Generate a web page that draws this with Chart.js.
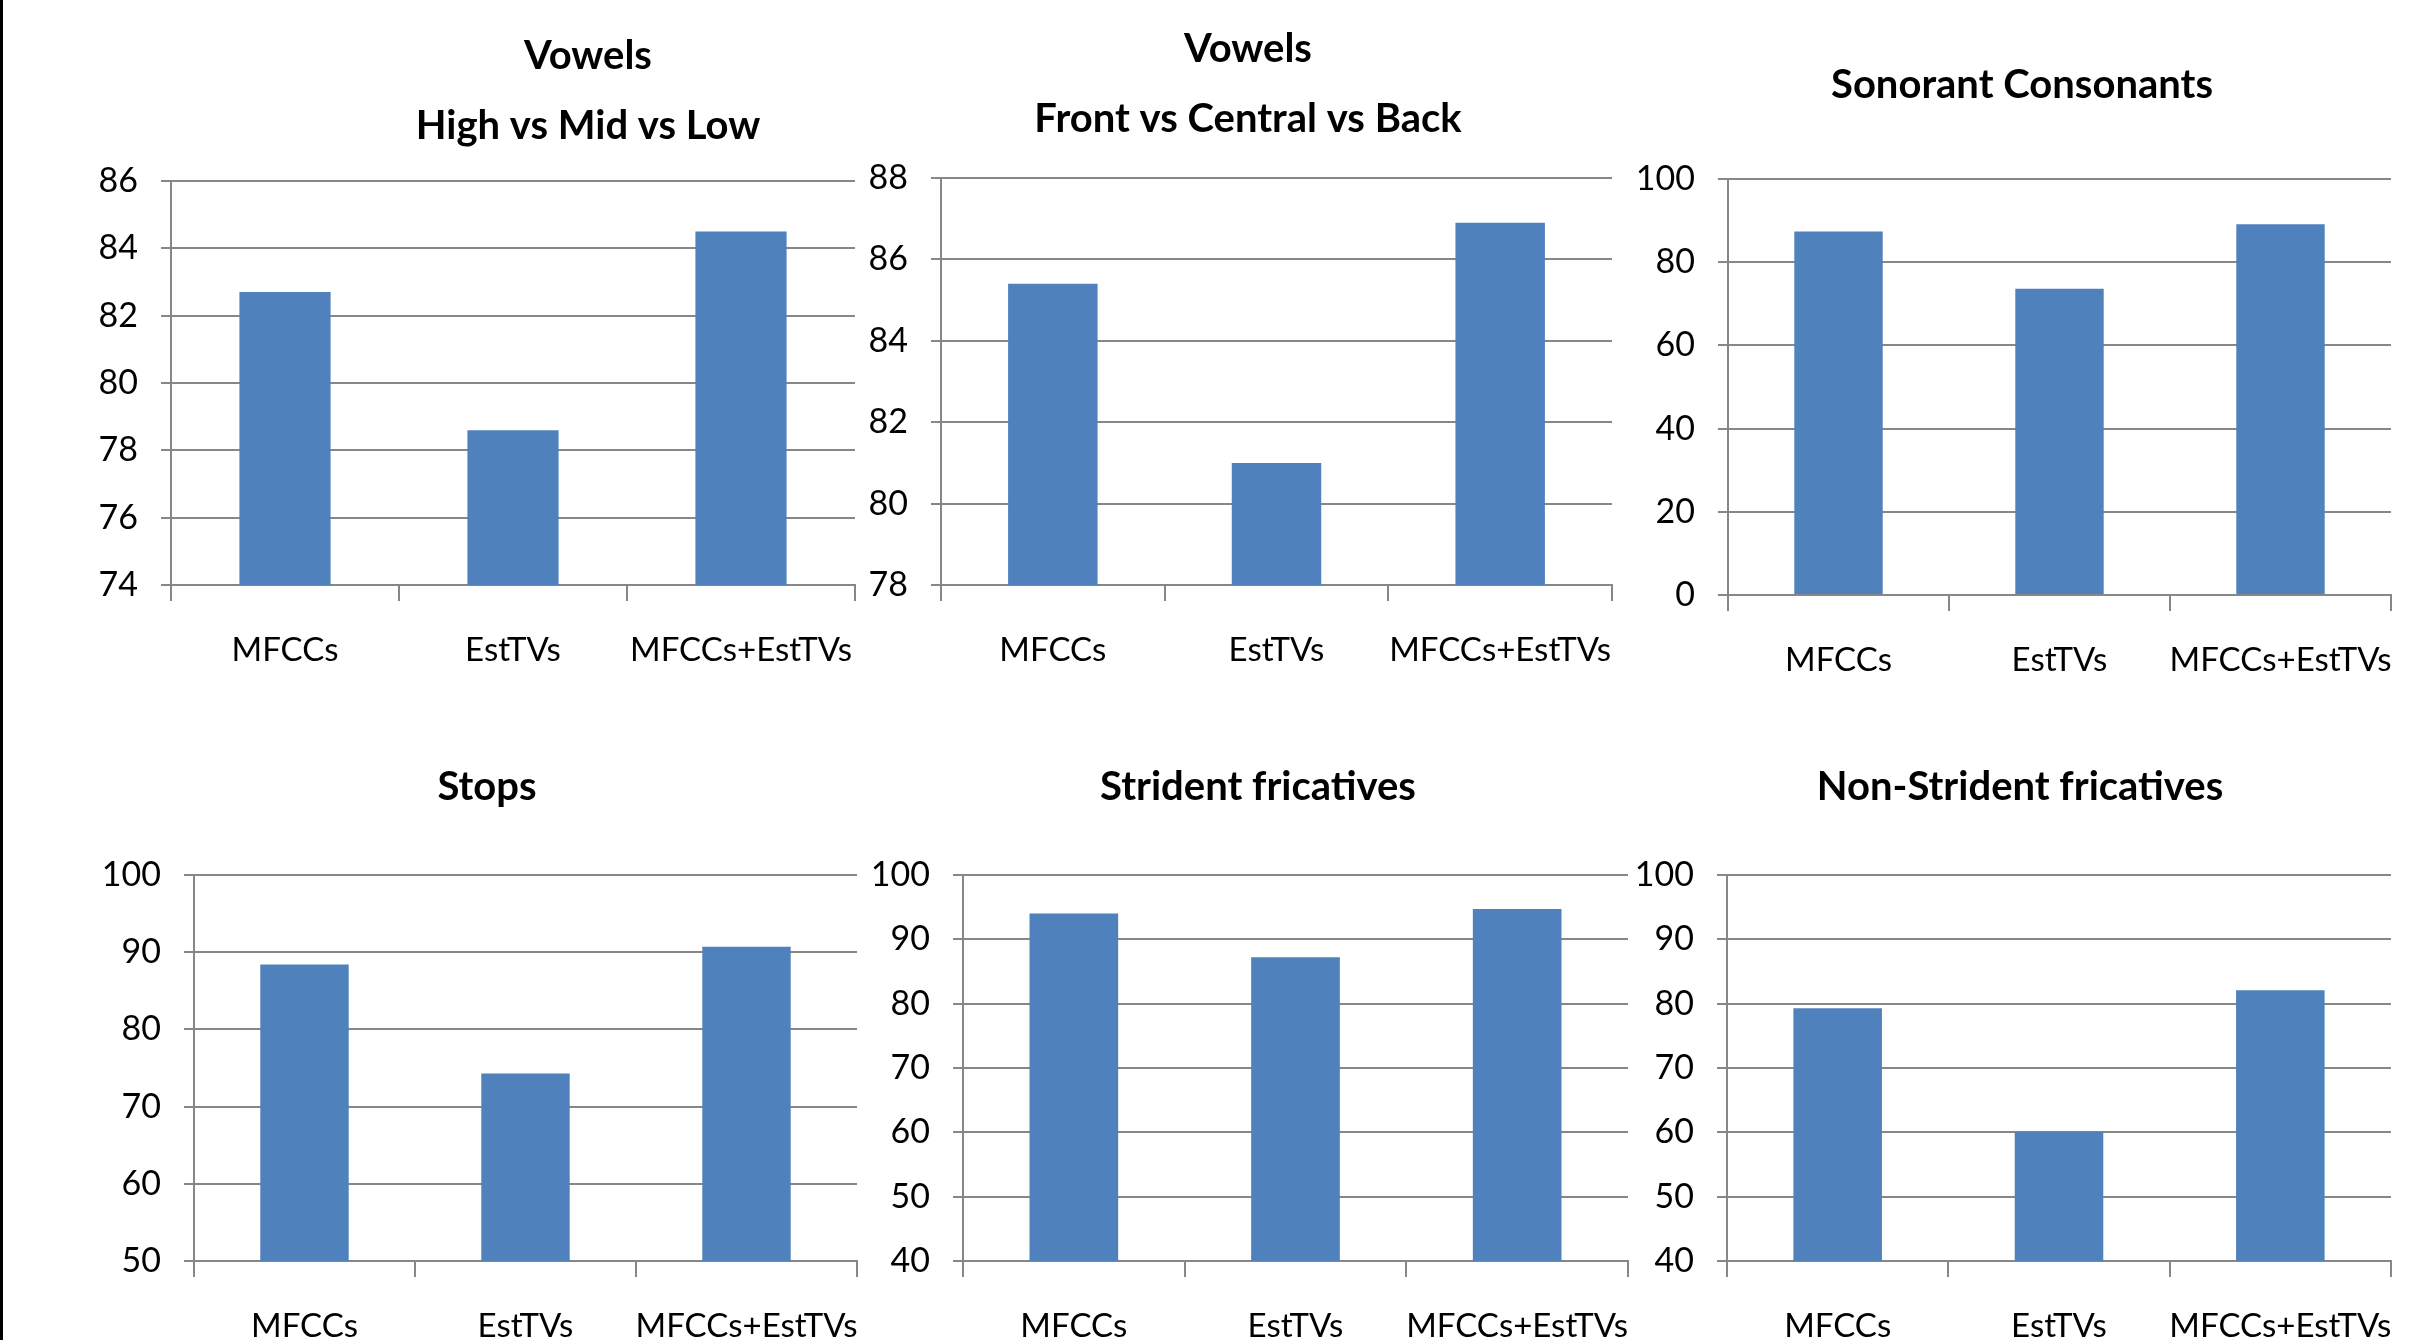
<!DOCTYPE html>
<html>
<head>
<meta charset="utf-8">
<title>Classification accuracy by feature set</title>
<script src="https://cdn.jsdelivr.net/npm/chart.js@4.4.1/dist/chart.umd.min.js"></script>
<style>
  html, body { margin: 0; padding: 0; background: #fff; }
  body { width: 2423px; height: 1340px; position: relative; overflow: hidden; }
  #edge { position: absolute; left: 0; top: 0; width: 3px; height: 1340px; background: #000; z-index: 5; }
  canvas { position: absolute; }
</style>
</head>
<body>
<div id="edge"></div>
<script>
// Feature sets compared in every panel
const categories = ['MFCCs', 'EstTVs', 'MFCCs+EstTVs'];

// Accuracy (%) per feature set
const vowelsHeightValues    = [82.7, 78.6, 84.5];
const vowelsBacknessValues  = [85.4, 81.0, 86.9];
const sonorantValues        = [87.4, 73.6, 89.1];
const stopsValues           = [88.4, 74.3, 90.7];
const stridentValues        = [94.0, 87.2, 94.7];
const nonStridentValues     = [79.3, 60.1, 82.1];

// Value-axis tick labels for each panel
const vowelsHeightTicks   = [74, 76, 78, 80, 82, 84, 86];
const vowelsBacknessTicks = [78, 80, 82, 84, 86, 88];
const sonorantTicks       = [0, 20, 40, 60, 80, 100];
const stopsTicks          = [50, 60, 70, 80, 90, 100];
const stridentTicks       = [40, 50, 60, 70, 80, 90, 100];
const nonStridentTicks    = [40, 50, 60, 70, 80, 90, 100];

// Panel titles
const vowelsHeightTitle   = ['Vowels', 'High vs Mid vs Low'];
const vowelsBacknessTitle = ['Vowels', 'Front vs Central vs Back'];
const sonorantTitle       = ['Sonorant Consonants'];
const stopsTitle          = ['Stops'];
const stridentTitle       = ['Strident fricatives'];
const nonStridentTitle    = ['Non-Strident fricatives'];

// Page layout: canvas cell, plot area and title anchor for each panel
const FONT = "Lato, 'Open Sans', sans-serif";
const GRID = '#878787';
const BAR = '#4F81BD';
const TITLE_LINE = 70;
const Y_BOX = 100;
const X_BOX = 100;

const panels = [
  { title: vowelsHeightTitle, values: vowelsHeightValues, ticks: vowelsHeightTicks,
    cell: { x: 4, y: 0, w: 860, h: 700 }, area: { l: 171, t: 181, r: 855, b: 585 }, titleX: 588, titleY: 56 },
  { title: vowelsBacknessTitle, values: vowelsBacknessValues, ticks: vowelsBacknessTicks,
    cell: { x: 864, y: 0, w: 770, h: 700 }, area: { l: 941, t: 178, r: 1612, b: 585 }, titleX: 1248, titleY: 49 },
  { title: sonorantTitle, values: sonorantValues, ticks: sonorantTicks,
    cell: { x: 1634, y: 0, w: 789, h: 700 }, area: { l: 1728, t: 179, r: 2391, b: 595 }, titleX: 2022, titleY: 85 },
  { title: stopsTitle, values: stopsValues, ticks: stopsTicks,
    cell: { x: 4, y: 690, w: 860, h: 780 }, area: { l: 194, t: 875, r: 857, b: 1261 }, titleX: 487, titleY: 787 },
  { title: stridentTitle, values: stridentValues, ticks: stridentTicks,
    cell: { x: 864, y: 690, w: 770, h: 780 }, area: { l: 963, t: 875, r: 1628, b: 1261 }, titleX: 1258, titleY: 787 },
  { title: nonStridentTitle, values: nonStridentValues, ticks: nonStridentTicks,
    cell: { x: 1634, y: 690, w: 789, h: 780 }, area: { l: 1727, t: 875, r: 2391, b: 1261 }, titleX: 2020, titleY: 787 }
];

panels.forEach((p) => {
  const canvas = document.createElement('canvas');
  canvas.width = p.cell.w;
  canvas.height = p.cell.h;
  canvas.style.left = p.cell.x + 'px';
  canvas.style.top = p.cell.y + 'px';
  canvas.style.width = p.cell.w + 'px';
  canvas.style.height = p.cell.h + 'px';
  document.body.appendChild(canvas);

  // Places the (possibly two-line) title centred on its anchor point
  const titlePlacer = {
    id: 'titlePlacer',
    afterLayout(chart) {
      const t = chart.titleBlock;
      if (!t) return;
      const cx = p.titleX - p.cell.x;
      t.left = cx - 600;
      t.right = cx + 600;
      t.top = p.titleY - p.cell.y - TITLE_LINE / 2;
      t.bottom = t.top + p.title.length * TITLE_LINE;
    }
  };

  new Chart(canvas, {
    type: 'bar',
    data: {
      labels: categories,
      datasets: [{
        data: p.values,
        backgroundColor: BAR,
        borderWidth: 0,
        barPercentage: 0.4,
        categoryPercentage: 1.0
      }]
    },
    options: {
      responsive: false,
      animation: false,
      devicePixelRatio: 1,
      layout: {
        padding: {
          left: p.area.l - p.cell.x - Y_BOX,
          right: p.cell.x + p.cell.w - p.area.r,
          top: p.area.t - p.cell.y - p.title.length * TITLE_LINE,
          bottom: p.cell.y + p.cell.h - p.area.b - X_BOX
        }
      },
      plugins: {
        legend: { display: false },
        tooltip: { enabled: false },
        title: {
          display: true,
          text: p.title,
          color: '#000',
          padding: 0,
          font: { family: FONT, size: 40, weight: 'bold', lineHeight: TITLE_LINE + 'px' }
        }
      },
      scales: {
        x: {
          offset: true,
          grid: { offset: true, drawOnChartArea: false, drawTicks: true, tickLength: 16, color: GRID, lineWidth: 2 },
          border: { display: true, color: GRID, width: 2 },
          ticks: { color: '#000', font: { family: FONT, size: 33 }, padding: 30, maxRotation: 0, autoSkip: false },
          afterFit: (s) => { s.height = X_BOX; s.paddingLeft = 0; s.paddingRight = 0; }
        },
        y: {
          min: p.ticks[0],
          max: p.ticks[p.ticks.length - 1],
          afterBuildTicks: (s) => { s.ticks = p.ticks.map((v) => ({ value: v })); },
          grid: { color: GRID, lineWidth: 2, drawTicks: true, tickLength: 10 },
          border: { display: true, color: GRID, width: 2 },
          ticks: { color: '#000', font: { family: FONT, size: 34 }, padding: 23 },
          afterFit: (s) => { s.width = Y_BOX; }
        }
      }
    },
    plugins: [titlePlacer]
  });
});
</script>
</body>
</html>
